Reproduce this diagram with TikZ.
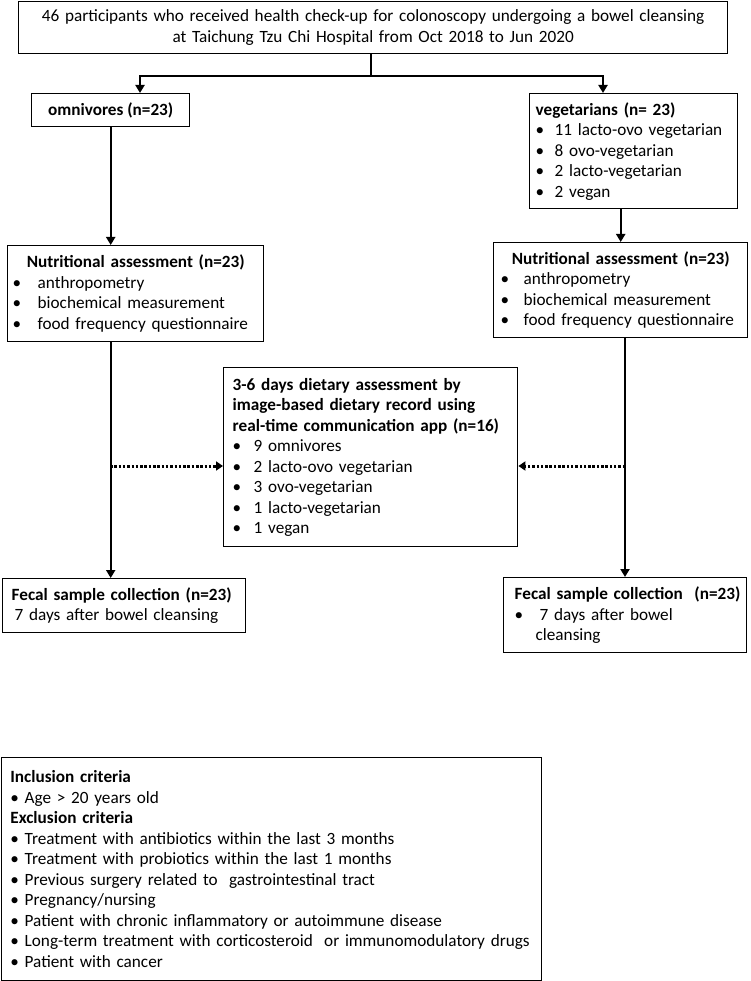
\documentclass[tikz,border=0pt]{standalone}
\usepackage{fontspec}
\setmainfont{Carlito}
\usetikzlibrary{arrows.meta}
\newcommand{\bul}[1]{\makebox[#1][l]{\textbullet}}
\begin{document}
\begin{tikzpicture}[x=1pt,y=-1pt,
        box/.style={draw, line width=1.4pt, anchor=north west, inner ysep=0pt, align=left, font=\fontsize{17.2}{20.5}\selectfont},
        arr/.style={line width=2.4pt, -{Triangle[width=9pt,length=8pt]}},
        dotarr/.style={line width=3pt, dash pattern=on 2.5pt off 1.8pt, -{Triangle[width=9pt,length=7pt]}}]
        \useasboundingbox (0,0) rectangle (750,981);
        \node[box, minimum width=709pt, minimum height=52pt, inner xsep=5pt, text width=699pt, align=center] (top) at (18,1) {46 participants who received health check-up for colonoscopy undergoing a bowel cleansing\\at Taichung Tzu Chi Hospital from Oct 2018 to Jun 2020};
        \node[box, minimum width=158pt, minimum height=33pt, inner xsep=0pt] (omni) at (31,93) {\bfseries omnivores (n=23)};
        \node[box, minimum width=208pt, minimum height=115pt, inner xsep=6pt, text width=196pt] (veg) at (529,93) {\textbf{vegetarians (n= 23)}\\\bul{19pt}11 lacto-ovo vegetarian\\\bul{19pt}8 ovo-vegetarian\\\bul{19pt}2 lacto-vegetarian\\\bul{19pt}2 vegan};
        \node[box, minimum width=256pt, minimum height=96pt, inner xsep=5pt, text width=246pt] (nutrL) at (7,245) {\makebox[246pt]{\bfseries Nutritional assessment (n=23)}\\\bul{25pt}anthropometry\\\bul{25pt}biochemical measurement\\\bul{25pt}food frequency questionnaire};
        \node[box, minimum width=254pt, minimum height=95pt, inner xsep=7pt, text width=240pt] (nutrR) at (493,242) {\makebox[240pt]{\bfseries Nutritional assessment (n=23)}\\\bul{23pt}anthropometry\\\bul{23pt}biochemical measurement\\\bul{23pt}food frequency questionnaire};
        \node[box, minimum width=294pt, minimum height=179pt, inner xsep=9pt, text width=276pt] (diet) at (223,367) {\textbf{3-6 days dietary assessment by}\\\textbf{image-based dietary record using}\\\mbox{\textbf{real-time communication app (n=16)}}\\\bul{21pt}9 omnivores\\\bul{21pt}2 lacto-ovo vegetarian\\\bul{21pt}3 ovo-vegetarian\\\bul{21pt}1 lacto-vegetarian\\\bul{21pt}1 vegan};
        \node[box, minimum width=243pt, minimum height=54pt, inner xsep=9pt, text width=225pt] (fecalL) at (2,578) {\mbox{\textbf{Fecal sample collection (n=23)}}\\\hspace*{3pt}7 days after bowel cleansing};
        \node[box, minimum width=243pt, minimum height=75pt, inner xsep=11pt, text width=221pt] (fecalR) at (503,577) {\makebox[221pt][l]{\textbf{Fecal sample collection\ \ (n=23)}}\\\bul{25pt}7 days after bowel\\\hspace*{21pt}cleansing};
        \node[box, minimum width=540pt, minimum height=223pt, inner xsep=9pt, text width=522pt] (crit) at (0.7,757) {\textbf{Inclusion criteria}\\\textbullet\ Age > 20 years old\\\textbf{Exclusion criteria}\\\textbullet\ Treatment with antibiotics within the last 3 months\\\textbullet\ Treatment with probiotics within the last 1 months\\\textbullet\ Previous surgery related to\ \ gastrointestinal tract\\\textbullet\ Pregnancy/nursing\\\textbullet\ Patient with chronic inflammatory or autoimmune disease\\\textbullet\ Long-term treatment with corticosteroid\ \ or immunomodulatory drugs\\\textbullet\ Patient with cancer};
        \coordinate (split) at (371,76);
        \coordinate (jl) at (140,76);
        \coordinate (jr) at (603,76);
        \coordinate (vr) at (625,0);
        \coordinate (dl) at (110,466);
        \coordinate (dr) at (625,466);
        \draw[line width=2.4pt] (top.south -| split) -- (split);
        \draw[arr] (split) -| (omni.north -| jl);
        \draw[arr] (split) -| (veg.north -| jr);
        \draw[arr] (omni.south) -- (nutrL.north -| omni.south);
        \draw[arr] (veg.south -| nutrR.north) -- (nutrR.north);
        \draw[arr] (nutrL.south -| omni.south) -- (fecalL.north -| omni.south);
        \draw[arr] (nutrR.south -| vr) -- (fecalR.north -| vr);
        \draw[dotarr] (dl) -- (diet.west |- dl);
        \draw[dotarr] (dr) -- (diet.east |- dr);
    \end{tikzpicture}
\end{document}
